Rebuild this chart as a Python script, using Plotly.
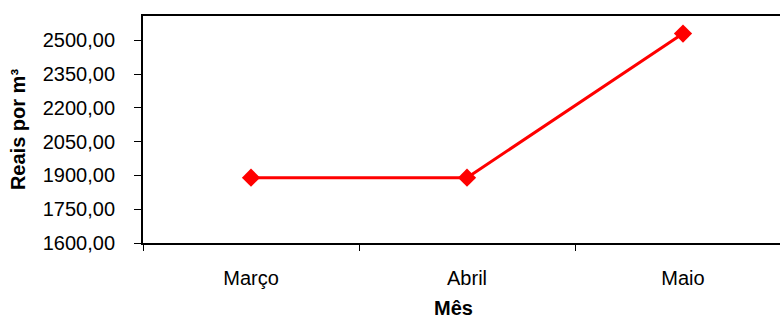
import plotly.graph_objects as go

months = ["Março", "Abril", "Maio"]
prices = [1890, 1890, 2530]
y_ticks = [1600, 1750, 1900, 2050, 2200, 2350, 2500]

fig = go.Figure()
fig.add_trace(go.Scatter(
    x=months, y=prices, mode="lines+markers",
    line=dict(color="#ff0000", width=3),
    marker=dict(symbol="diamond", size=14, color="#ff0000"),
    showlegend=False,
))

font = "Liberation Sans, Arial, sans-serif"
fig.update_layout(
    width=780, height=320,
    margin=dict(l=143, r=0, t=16, b=77),
    paper_bgcolor="white", plot_bgcolor="white",
    separators=", ",
    font=dict(family=font, size=20, color="black"),
)
fig.update_xaxes(
    type="category", range=[-0.5, 2.449],
    showline=True, linecolor="black", linewidth=2, mirror=True,
    ticks="outside", tickson="boundaries", ticklen=6, tickcolor="black", tickwidth=1,
    ticklabelstandoff=16, showgrid=False, zeroline=False,
)
fig.add_annotation(
    text="<b>Mês</b>", xref="paper", yref="paper", x=0.487, y=-0.287,
    xanchor="center", yanchor="middle", showarrow=False, font=dict(size=20),
)
fig.update_yaxes(
    range=[1600, 2608], tickvals=y_ticks, tickformat=".2f",
    showline=True, linecolor="black", linewidth=2, mirror=False,
    ticks="outside", ticklen=7, tickcolor="black", tickwidth=1,
    ticklabelstandoff=15, showgrid=False, zeroline=False,
    title=dict(text="<b>Reais por m³</b>", font=dict(size=20), standoff=12),
)
fig.write_html("out.html")
